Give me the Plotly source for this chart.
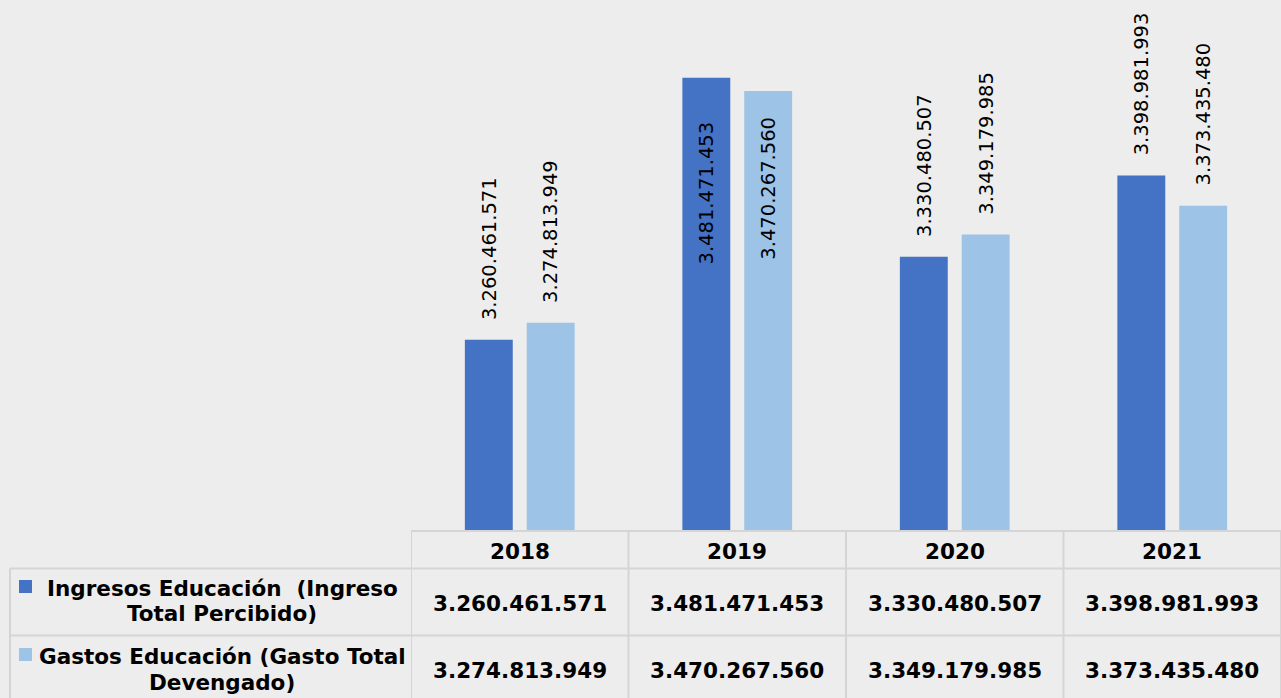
import plotly.graph_objects as go

# ---------------- data ----------------
years = ["2018", "2019", "2020", "2021"]
ingresos = [3260461571, 3481471453, 3330480507, 3398981993]
gastos = [3274813949, 3470267560, 3349179985, 3373435480]
series_names = [
    "Ingresos Educación  (Ingreso<br>Total Percibido)",
    "Gastos Educación (Gasto Total<br>Devengado)",
]
series_values = [ingresos, gastos]
colors = ["#4472C4", "#9DC3E6"]
y_min, y_max = 3100000000, 3547000000

# ---------------- layout constants ----------------
W, H = 1281, 698
BG = "#EDEDED"
GRID = "#D5D5D5"
plot_left_px = 411
plot_bottom_px = 530
FONT = "DejaVu Sans"
table_font = dict(family=FONT, size=21.5, color="#000000")
label_font = dict(family=FONT, size=19.5, color="#000000")
bargap, bargroupgap = 0.431, 0.226


def py(px):
    return 1 - px / H


def px_of_value(v):
    return plot_bottom_px * (1 - (v - y_min) / (y_max - y_min))


def fmt(v):
    return f"{v:,}".replace(",", ".")


fig = go.Figure()
for vals, name, col in zip(series_values, series_names, colors):
    fig.add_trace(go.Bar(x=years, y=vals, name=name.replace("<br>", " "),
                         marker=dict(color=col, line=dict(width=0)),
                         showlegend=False))

annotations = []
shapes = []

# data labels (rotated)
cat_w = (W - plot_left_px) / len(years)
slot = cat_w * (1 - bargap) / len(series_values)
label_len = 144
inside_shift = [-42, -24]
for s, vals in enumerate(series_values):
    off = (s - (len(series_values) - 1) / 2) * slot
    for i, v in enumerate(vals):
        top = px_of_value(v)
        if top - 20 - label_len >= 0:
            anchor, shift = "bottom", 18
        else:
            anchor, shift = "top", inside_shift[s]
        annotations.append(dict(x=i, y=v, xref="x", yref="y", xshift=off,
                                yshift=shift, yanchor=anchor, xanchor="center",
                                text=fmt(v), textangle=-90, showarrow=False,
                                font=label_font))

# ---------------- data table ----------------
row_top = 531
row1_top = 568.5
row2_top = 635.5
left_edge = 10

# horizontal lines
shapes.append(dict(type="line", xref="x", yref="paper", x0=-0.5, x1=len(years) - 0.5,
                   y0=py(row_top), y1=py(row_top), line=dict(color=GRID, width=2)))
for yy in (row1_top, row2_top):
    shapes.append(dict(type="line", xref="paper", yref="paper", x0=left_edge / W, x1=1,
                       y0=py(yy), y1=py(yy), line=dict(color=GRID, width=2)))
# vertical lines
for i in range(len(years) + 1):
    shapes.append(dict(type="line", xref="x", yref="paper", x0=i - 0.5, x1=i - 0.5,
                       y0=py(row_top), y1=0, line=dict(color=GRID, width=2)))
shapes.append(dict(type="line", xref="paper", yref="paper", x0=left_edge / W, x1=left_edge / W,
                   y0=py(row1_top), y1=0, line=dict(color=GRID, width=2)))

# header row (years)
for i, yr in enumerate(years):
    annotations.append(dict(x=i, y=py(551), xref="x", yref="paper", text=f"<b>{yr}</b>",
                            showarrow=False, yanchor="middle", font=table_font))
# value rows
row_value_y = [603, 670]
for vals, ry in zip(series_values, row_value_y):
    for i, v in enumerate(vals):
        annotations.append(dict(x=i, y=py(ry), xref="x", yref="paper",
                                text=f"<b>{fmt(v)}</b>", showarrow=False,
                                yanchor="middle", font=table_font))

# legend keys + names
key_tops = [580, 648]
line_ys = [[588, 613], [656, 682]]
for name, col, kt, lys in zip(series_names, colors, key_tops, line_ys):
    shapes.append(dict(type="rect", xref="paper", yref="paper", x0=19 / W, x1=32 / W,
                       y0=py(kt + 13), y1=py(kt), fillcolor=col, line=dict(width=0)))
    for line_txt, ly in zip(name.split("<br>"), lys):
        annotations.append(dict(x=222 / W, y=py(ly), xref="paper", yref="paper",
                                text=f"<b>{line_txt}</b>", showarrow=False,
                                xanchor="center", yanchor="middle", font=table_font))

fig.update_layout(
    width=W, height=H,
    paper_bgcolor=BG, plot_bgcolor=BG,
    margin=dict(l=0, r=0, t=0, b=0),
    barmode="group", bargap=bargap, bargroupgap=bargroupgap,
    xaxis=dict(type="category", domain=[plot_left_px / W, 1], range=[-0.5, len(years) - 0.5],
               visible=False, fixedrange=True),
    yaxis=dict(domain=[py(plot_bottom_px), 1], range=[y_min, y_max],
               visible=False, fixedrange=True),
    annotations=annotations,
    shapes=shapes,
    font=dict(family=FONT),
)

fig.write_html("out.html", config={"displayModeBar": False},
               post_script="document.body.style.margin='0';document.body.style.overflow='hidden';")
